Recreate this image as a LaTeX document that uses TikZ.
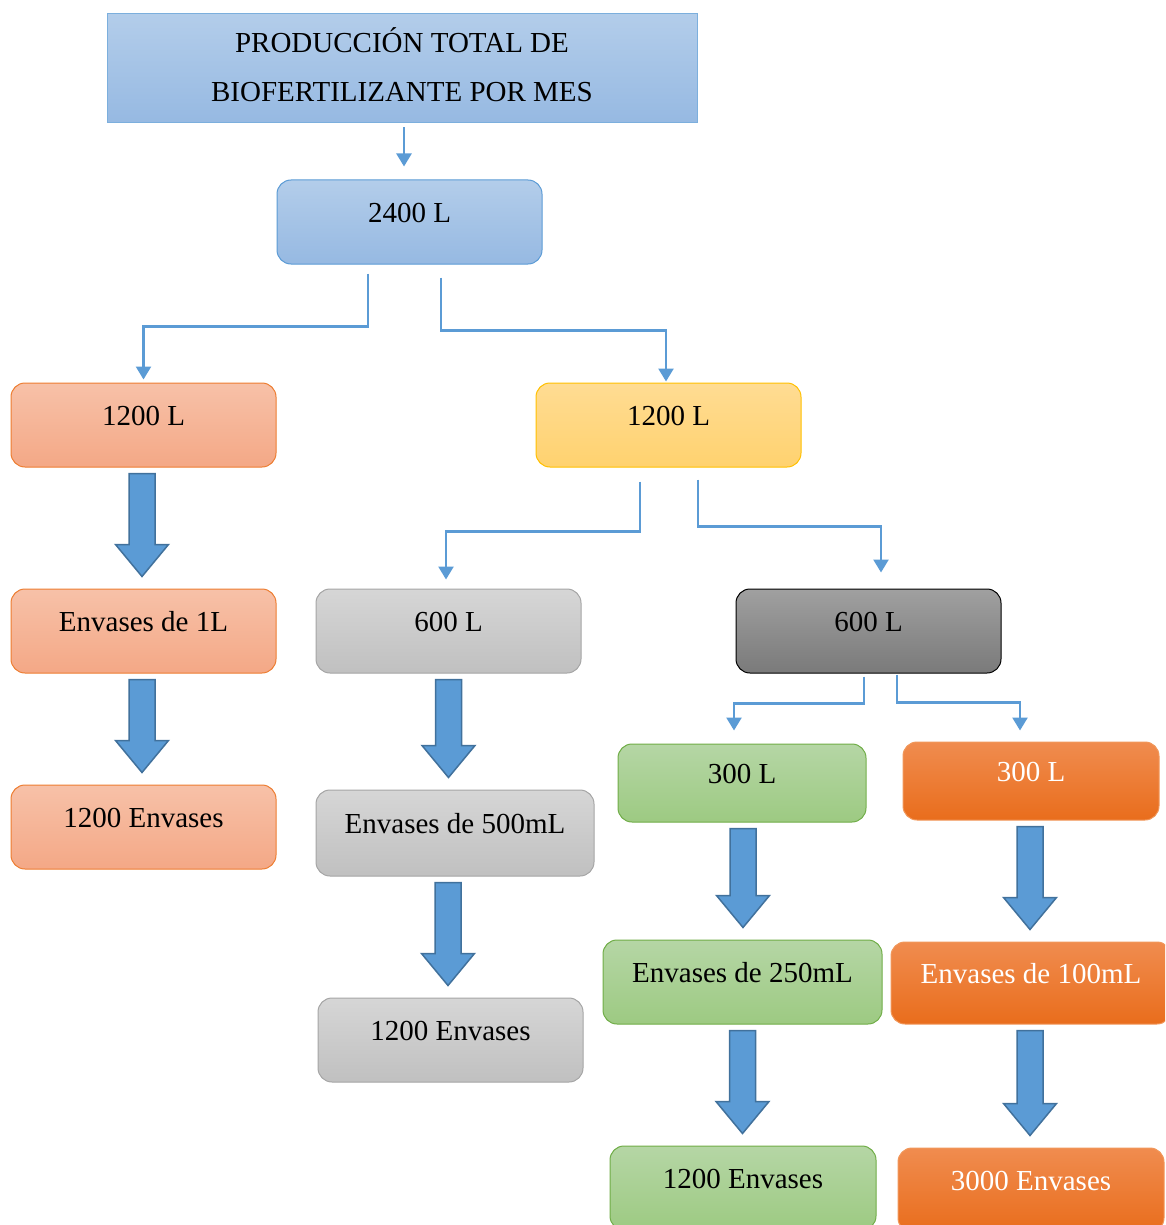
\documentclass[tikz,border=0pt]{standalone}
\usepackage{fontspec}
\setmainfont{Liberation Serif}
\usetikzlibrary{positioning,calc,arrows.meta}
\definecolor{palBlue}{HTML}{5B9BD5}
\definecolor{palBlueDk}{HTML}{41719C}
\definecolor{palBlueTop}{HTML}{B3CDEA}
\definecolor{palBlueBot}{HTML}{96B9E2}
\definecolor{palSalmonTop}{HTML}{F7C1A8}
\definecolor{palSalmonBot}{HTML}{F4A886}
\definecolor{palOrangeLn}{HTML}{ED7D31}
\definecolor{palYellowTop}{HTML}{FFDC93}
\definecolor{palYellowBot}{HTML}{FFD26F}
\definecolor{palYellowLn}{HTML}{FFC000}
\definecolor{palGrayTop}{HTML}{D6D6D6}
\definecolor{palGrayBot}{HTML}{C0C0C0}
\definecolor{palGrayLn}{HTML}{A5A5A5}
\definecolor{palDarkTop}{HTML}{A0A0A0}
\definecolor{palDarkBot}{HTML}{7A7A7A}
\definecolor{palGreenTop}{HTML}{B5D6A5}
\definecolor{palGreenBot}{HTML}{9DCA82}
\definecolor{palGreenLn}{HTML}{70AD47}
\definecolor{palOrangeTop}{HTML}{F08C4F}
\definecolor{palOrangeBot}{HTML}{E96D1C}
\tikzset{
  flowbox/.style={draw, rounded corners=14pt, line width=1pt, minimum width=265pt,
                  minimum height=84pt, inner sep=0pt, text height=20pt, text depth=20pt,
                  font=\fontsize{29}{35}\selectfont},
  titlebox/.style={draw=palBlue!80, line width=1pt, top color=palBlueTop,
                   bottom color=palBlueBot, minimum width=590pt, minimum height=109pt,
                   align=center, text depth=8pt, font=\fontsize{29}{49.5}\selectfont},
  bluebox/.style={flowbox, draw=palBlue, top color=palBlueTop, bottom color=palBlueBot},
  salmonbox/.style={flowbox, draw=palOrangeLn, top color=palSalmonTop, bottom color=palSalmonBot},
  yellowbox/.style={flowbox, draw=palYellowLn, top color=palYellowTop, bottom color=palYellowBot},
  graybox/.style={flowbox, draw=palGrayLn, top color=palGrayTop, bottom color=palGrayBot},
  darkbox/.style={flowbox, draw=black, top color=palDarkTop, bottom color=palDarkBot},
  greenbox/.style={flowbox, draw=palGreenLn, top color=palGreenTop, bottom color=palGreenBot},
  orangebox/.style={flowbox, draw=palOrangeLn!80, top color=palOrangeTop,
                    bottom color=palOrangeBot, text=white},
  thinarrow/.style={draw=palBlue, line width=2.5pt,
                    -{Triangle[width=15pt,length=13pt]}},
  fatarrow/.style={draw=palBlueDk, fill=palBlue, line width=1.5pt, line join=miter},
}
% block arrow under node #2 pointing to node #3, shifted by #1
\newcommand{\fatarrow}[3][0pt]{%
  \draw[fatarrow] let \p1=(#2.south), \p2=(#3.north) in
    (\x1+#1-13pt,\y1-6pt) -- (\x1+#1+13pt,\y1-6pt) -- (\x1+#1+13pt,\y2+44pt)
    -- (\x1+#1+26.5pt,\y2+44pt) -- (\x1+#1,\y2+12pt) -- (\x1+#1-26.5pt,\y2+44pt)
    -- (\x1+#1-13pt,\y2+44pt) -- cycle;}

\begin{document}
\begin{tikzpicture}[x=1pt, y=1pt]
\useasboundingbox (0,0) rectangle (1165,-1225);
\clip (0,0) rectangle (1165,-1225);

%% Title and total
\node[titlebox] (total) at (402,-68.5) {PRODUCCIÓN TOTAL DE\\BIOFERTILIZANTE POR MES};
\node[bluebox] (l2400) at (409.5,-222) {2400 L};

%% First split
\node[salmonbox] (l1200a) at (143.5,-425) {1200 L};
\node[yellowbox] (l1200b) at (668.5,-425) {1200 L};

%% Left column (1 L)
\node[salmonbox] (env1l) at (143.5,-631) {Envases de 1L};
\node[salmonbox] (n1200a) at (143.5,-827) {1200 Envases};

%% Middle column (500 mL)
\node[graybox] (l600a) at (448.5,-631) {600 L};
\node[graybox, minimum width=278pt, minimum height=86pt] (env500) at (455,-833) {Envases de 500mL};
\node[graybox] (n1200b) at (450.5,-1040) {1200 Envases};

%% Right part
\node[darkbox] (l600b) at (868.5,-631) {600 L};
\node[greenbox, minimum width=248pt, minimum height=78pt] (l300a) at (742,-783) {300 L};
\node[orangebox, minimum width=256pt, minimum height=78pt] (l300b) at (1031,-781) {300 L};
\node[greenbox, minimum width=279pt] (env250) at (742.5,-982) {Envases de 250mL};
\node[orangebox, minimum width=280pt, minimum height=82pt] (env100) at (1031,-983) {Envases de 100mL};
\node[greenbox, minimum width=266pt] (n1200c) at (743,-1188) {1200 Envases};
\node[orangebox, minimum width=266pt] (n3000) at (1031,-1190) {3000 Envases};

%% Split connectors
\draw[thinarrow] ($(total.south)+(2,-4)$) -- ($(l2400.north)+(-5.5,13)$);
\draw[thinarrow] ($(l2400.south)+(-41.5,-9)$) -- ++(0,-53) -| ($(l1200a.north)+(0,3)$);
\draw[thinarrow] ($(l2400.south)+(31.5,-13)$) -- ++(0,-53) -| ($(l1200b.north)+(-2.5,1)$);
\draw[thinarrow] ($(l1200b.south)+(-28.5,-14)$) -- ++(0,-50) -| ($(l600a.north)+(-2.5,9)$);
\draw[thinarrow] ($(l1200b.south)+(29.5,-12)$) -- ++(0,-47) -| ($(l600b.north)+(12.5,16)$);
\draw[thinarrow] ($(l600b.south)+(-4.5,-3)$) -- ++(0,-27) -| ($(l300a.north)+(-8,13)$);
\draw[thinarrow] ($(l600b.south)+(28.5,-1)$) -- ++(0,-28) -| ($(l300b.north)+(-11,11)$);

%% Block arrows
\fatarrow[-1.5pt]{l1200a}{env1l}
\fatarrow[-1.5pt]{env1l}{n1200a}
\fatarrow{l600a}{env500}
\fatarrow[-7pt]{env500}{n1200b}
\fatarrow[1pt]{l300a}{env250}
\fatarrow{env250}{n1200c}
\fatarrow[-1pt]{l300b}{env100}
\fatarrow[-1pt]{env100}{n3000}
\end{tikzpicture}
\end{document}
